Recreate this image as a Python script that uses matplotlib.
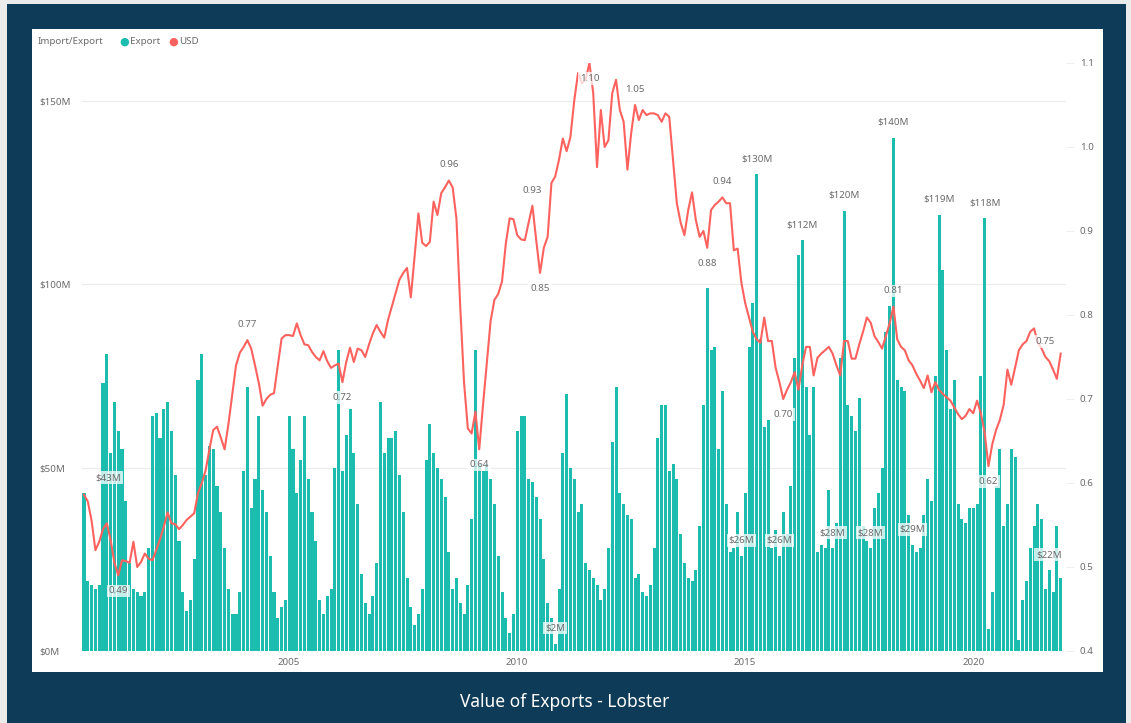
import numpy as np
import matplotlib
matplotlib.use('Agg')
import matplotlib.pyplot as plt
from matplotlib.patches import Rectangle

plt.rcParams['font.family'] = ['Noto Sans', 'DejaVu Sans']

# Monthly lobster export value ($M), Jul 2000 - Dec 2021
exp_2000 = [43, 19, 18, 17, 18, 73]
exp_2001 = [81, 54, 68, 60, 55, 41, 24, 17, 16, 15, 16, 28]
exp_2002 = [64, 65, 58, 66, 68, 60, 48, 30, 16, 11, 14, 25]
exp_2003 = [74, 81, 48, 56, 55, 45, 38, 28, 17, 10, 10, 16]
exp_2004 = [49, 72, 39, 47, 64, 44, 38, 26, 16, 9, 12, 14]
exp_2005 = [64, 55, 43, 52, 64, 47, 38, 30, 14, 10, 15, 17]
exp_2006 = [50, 82, 49, 59, 66, 54, 40, 21, 13, 10, 15, 24]
exp_2007 = [68, 54, 58, 58, 60, 48, 38, 20, 12, 7, 10, 17]
exp_2008 = [52, 62, 54, 50, 47, 42, 27, 17, 20, 13, 10, 18]
exp_2009 = [36, 82, 51, 49, 51, 47, 40, 26, 16, 9, 5, 10]
exp_2010 = [60, 64, 64, 47, 46, 42, 36, 25, 13, 9, 2, 17]
exp_2011 = [54, 70, 50, 47, 38, 40, 24, 22, 20, 18, 14, 17]
exp_2012 = [28, 57, 72, 43, 40, 37, 36, 20, 21, 16, 15, 18]
exp_2013 = [28, 58, 67, 67, 49, 51, 47, 32, 24, 20, 19, 22]
exp_2014 = [34, 67, 99, 82, 83, 55, 71, 40, 27, 28, 38, 26]
exp_2015 = [43, 83, 95, 130, 85, 61, 63, 28, 33, 26, 38, 32]
exp_2016 = [45, 80, 108, 112, 72, 59, 72, 27, 29, 28, 44, 28]
exp_2017 = [35, 80, 120, 67, 64, 60, 69, 34, 30, 28, 39, 43]
exp_2018 = [50, 87, 94, 140, 74, 72, 71, 37, 29, 27, 28, 37]
exp_2019 = [47, 41, 75, 119, 104, 82, 66, 74, 40, 36, 35, 39]
exp_2020 = [39, 40, 75, 118, 6, 16, 45, 55, 34, 40, 55, 53]
exp_2021 = [3, 14, 19, 28, 34, 40, 36, 17, 22, 16, 34, 20]

# AUD/USD rate, same months
usd_2000 = [0.586, 0.578, 0.555, 0.52, 0.53, 0.545]
usd_2001 = [0.552, 0.532, 0.505, 0.49, 0.508, 0.507, 0.505, 0.53, 0.5, 0.506, 0.516, 0.51]
usd_2002 = [0.508, 0.52, 0.533, 0.548, 0.565, 0.552, 0.551, 0.545, 0.55, 0.556, 0.56, 0.564]
usd_2003 = [0.588, 0.6, 0.615, 0.64, 0.663, 0.667, 0.654, 0.64, 0.67, 0.705, 0.74, 0.755]
usd_2004 = [0.762, 0.77, 0.76, 0.74, 0.719, 0.692, 0.7, 0.705, 0.707, 0.74, 0.772, 0.776]
usd_2005 = [0.776, 0.775, 0.79, 0.776, 0.765, 0.764, 0.756, 0.75, 0.746, 0.757, 0.745, 0.737]
usd_2006 = [0.74, 0.742, 0.72, 0.744, 0.761, 0.744, 0.76, 0.758, 0.75, 0.765, 0.778, 0.788]
usd_2007 = [0.78, 0.773, 0.794, 0.81, 0.826, 0.842, 0.85, 0.856, 0.821, 0.87, 0.921, 0.886]
usd_2008 = [0.882, 0.887, 0.935, 0.919, 0.945, 0.952, 0.96, 0.952, 0.915, 0.81, 0.72, 0.665]
usd_2009 = [0.659, 0.685, 0.64, 0.693, 0.743, 0.793, 0.818, 0.825, 0.84, 0.885, 0.915, 0.914]
usd_2010 = [0.895, 0.89, 0.889, 0.91, 0.93, 0.889, 0.85, 0.88, 0.893, 0.957, 0.965, 0.985]
usd_2011 = [1.01, 0.995, 1.012, 1.055, 1.088, 1.076, 1.08, 1.10, 1.064, 0.976, 1.044, 1.0]
usd_2012 = [1.008, 1.064, 1.08, 1.044, 1.03, 0.973, 1.017, 1.05, 1.032, 1.044, 1.038, 1.04]
usd_2013 = [1.04, 1.038, 1.03, 1.04, 1.036, 0.985, 0.933, 0.91, 0.895, 0.925, 0.946, 0.913]
usd_2014 = [0.893, 0.9, 0.88, 0.925, 0.931, 0.935, 0.94, 0.933, 0.933, 0.877, 0.879, 0.838]
usd_2015 = [0.814, 0.797, 0.78, 0.771, 0.767, 0.797, 0.769, 0.769, 0.737, 0.72, 0.70, 0.711]
usd_2016 = [0.72, 0.732, 0.711, 0.74, 0.762, 0.762, 0.728, 0.749, 0.754, 0.758, 0.762, 0.754]
usd_2017 = [0.74, 0.728, 0.769, 0.769, 0.748, 0.748, 0.765, 0.78, 0.797, 0.791, 0.775, 0.768]
usd_2018 = [0.76, 0.775, 0.79, 0.81, 0.771, 0.762, 0.758, 0.746, 0.74, 0.73, 0.722, 0.713]
usd_2019 = [0.728, 0.708, 0.72, 0.711, 0.706, 0.702, 0.698, 0.69, 0.682, 0.676, 0.68, 0.688]
usd_2020 = [0.683, 0.698, 0.683, 0.66, 0.62, 0.646, 0.663, 0.675, 0.693, 0.735, 0.717, 0.737]
usd_2021 = [0.758, 0.765, 0.769, 0.78, 0.784, 0.767, 0.76, 0.75, 0.745, 0.735, 0.724, 0.754]

exports = np.array(exp_2000 + exp_2001 + exp_2002 + exp_2003 + exp_2004 + exp_2005
                   + exp_2006 + exp_2007 + exp_2008 + exp_2009 + exp_2010 + exp_2011
                   + exp_2012 + exp_2013 + exp_2014 + exp_2015 + exp_2016 + exp_2017
                   + exp_2018 + exp_2019 + exp_2020 + exp_2021, dtype=float)
usd = np.array(usd_2000 + usd_2001 + usd_2002 + usd_2003 + usd_2004 + usd_2005
               + usd_2006 + usd_2007 + usd_2008 + usd_2009 + usd_2010 + usd_2011
               + usd_2012 + usd_2013 + usd_2014 + usd_2015 + usd_2016 + usd_2017
               + usd_2018 + usd_2019 + usd_2020 + usd_2021)
months = np.arange(len(exports))  # 0 = Jul 2000

years = [2005, 2010, 2015, 2020]
year_pos = [(y - 2000) * 12 - 6 for y in years]

left_ticks = [0, 50, 100, 150]
right_ticks = [0.4, 0.5, 0.6, 0.7, 0.8, 0.9, 1.0, 1.1]

# months that carry a data label
bar_label_idx = [0, 124, 173, 177, 183, 189, 197, 200, 207, 213, 218, 225, 237, 254]
usd_label_idx = [9, 43, 68, 96, 104, 118, 120, 133, 145, 164, 168, 184, 213, 238, 253]

TEAL = '#1cbcae'
RED = '#fd625e'
NAVY = '#0e3b58'
GREY = '#6b6b6b'

fig = plt.figure(figsize=(11.31, 7.23), dpi=100, facecolor='#ebebeb')
fig.patches.append(Rectangle((0.0062, 0), 0.9894, 0.9945, transform=fig.transFigure,
                             facecolor=NAVY, edgecolor='none', zorder=-2))
fig.patches.append(Rectangle((0.0283, 0.0705), 0.947, 0.889, transform=fig.transFigure,
                             facecolor='white', edgecolor='none', zorder=-1))

ax = fig.add_axes([0.0725, 0.0996, 0.870, 0.8133])
ax2 = ax.twinx()
ax.set_zorder(1)
ax2.set_zorder(2)
ax.patch.set_visible(False)
ax2.patch.set_visible(False)

ax.bar(months, exports, width=0.8, color=TEAL, zorder=2)
ax2.plot(months, usd, color=RED, lw=1.5, zorder=3)

ax.set_xlim(-0.53, 258.4)
ax.set_ylim(0, 160.4)
ax2.set_ylim(0.4, 1.1)

ax.set_yticks(left_ticks)
ax.set_yticklabels([f'${v}M' for v in left_ticks])
ax2.set_yticks(right_ticks)
ax2.set_yticklabels([f'{v:.1f}' for v in right_ticks])
ax.set_xticks(year_pos)
ax.set_xticklabels([str(y) for y in years])

ax.yaxis.grid(True, color='#ececec', lw=0.9, zorder=0)
ax.set_axisbelow(True)
for a in (ax, ax2):
    for s in a.spines.values():
        s.set_visible(False)
ax.tick_params(axis='y', length=0, pad=31, labelsize=7, labelcolor=GREY)
for t in ax.get_yticklabels():
    t.set_ha('left')
ax.tick_params(axis='x', length=0, pad=5, labelsize=7, labelcolor=GREY)
ax2.tick_params(axis='y', length=6, width=0.8, color='#eeeeee', pad=4,
                labelsize=7, labelcolor=GREY)

box = dict(boxstyle='square,pad=0.2', fc='white', ec='none', alpha=0.75)

for i in bar_label_idx:
    ax.annotate(f'${exports[i]:.0f}M', (months[i], exports[i]),
                xytext=(8 if i == 0 else 0, 8), textcoords='offset points',
                ha='left' if i == 0 else 'center', va='bottom',
                fontsize=7, color=GREY, bbox=box, zorder=5, annotation_clip=False)

for i in usd_label_idx:
    v = usd[i]
    below = v <= min(usd[i - 1], usd[i + 1]) or v + 0.03 > 1.1
    ax2.annotate(f'{v:.2f}', (months[i], v),
                 xytext=(0, -8 if below else 8), textcoords='offset points',
                 ha='center', va='top' if below else 'bottom',
                 fontsize=7, color=GREY, bbox=box, zorder=6, annotation_clip=False)

# legend row
fig.text(0.0336, 0.942, 'Import/Export', fontsize=7, color=GREY, va='center')
fig.text(0.1098, 0.942, '\u25cf', fontsize=8, color=TEAL, va='center', ha='center')
fig.text(0.1150, 0.942, 'Export', fontsize=7, color=GREY, va='center')
fig.text(0.1530, 0.942, '\u25cf', fontsize=8, color=RED, va='center', ha='center')
fig.text(0.1582, 0.942, 'USD', fontsize=7, color=GREY, va='center')

fig.text(0.4996, 0.029, 'Value of Exports - Lobster', fontsize=12.5, color='white',
         ha='center', va='center', fontweight='medium')

fig.savefig('out.png', dpi=100, facecolor=fig.get_facecolor())
